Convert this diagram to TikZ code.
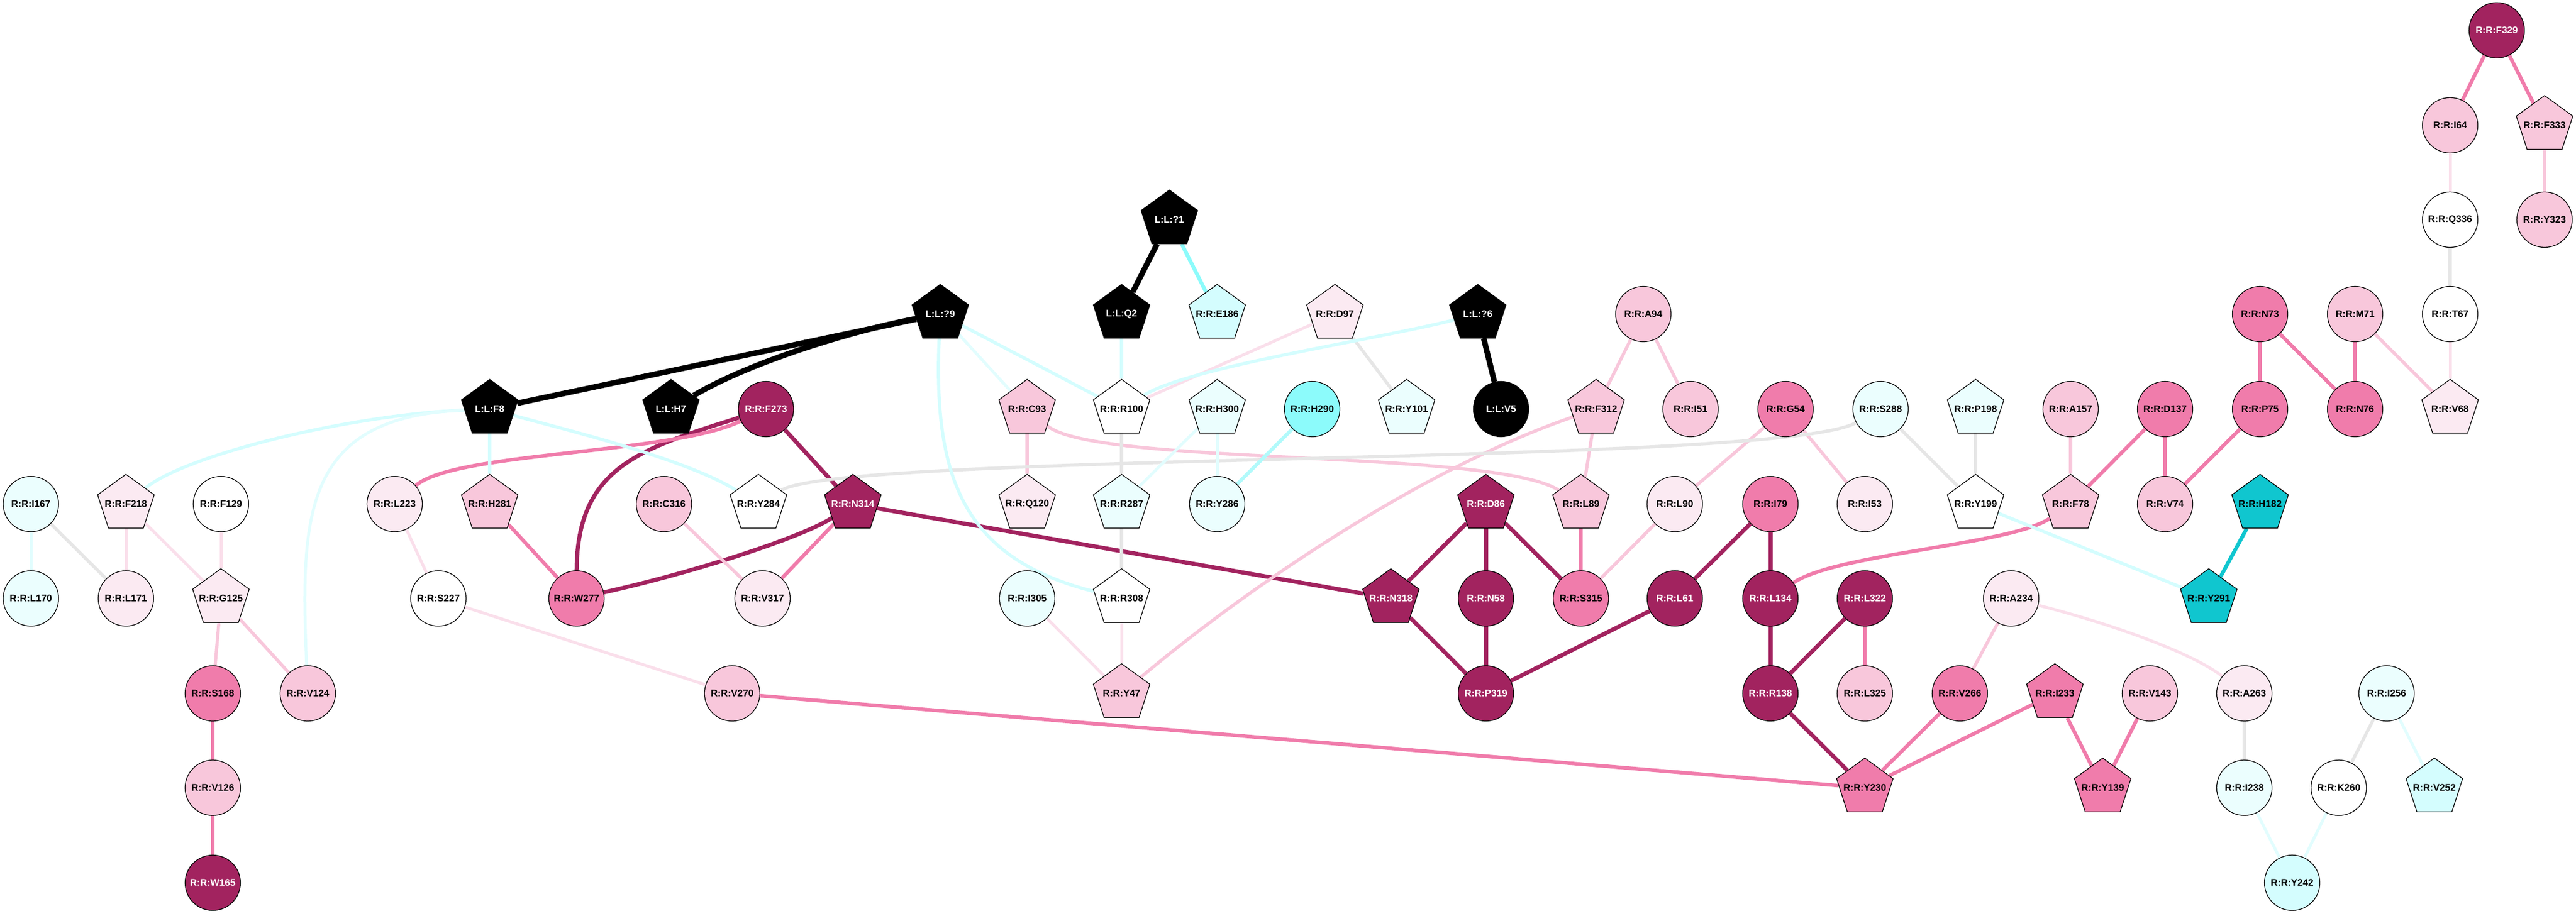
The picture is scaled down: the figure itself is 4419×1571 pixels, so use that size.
\documentclass[tikz,border=0pt]{standalone}
\usepackage{fontspec}
\newfontfamily\labfont{Liberation Sans}
\usetikzlibrary{shapes.geometric,backgrounds}
\definecolor{dmc}{HTML}{A2235F}
\definecolor{mpc}{HTML}{F07CAB}
\definecolor{lpc}{HTML}{F8C7DB}
\definecolor{vpc}{HTML}{FBEAF2}
\definecolor{vpe}{HTML}{FADFEB}
\definecolor{vcc}{HTML}{EBFEFE}
\definecolor{vce}{HTML}{E2FDFE}
\definecolor{lcc}{HTML}{D4FDFE}
\definecolor{mcc}{HTML}{B2FAFB}
\definecolor{cyc}{HTML}{8CFBFB}
\definecolor{tlc}{HTML}{10C6CF}
\definecolor{grc}{HTML}{E6E6E6}
\newcommand\lbl[1]{\makebox[0pt]{#1}}
\begin{document}
\begin{tikzpicture}[x=0.1mm,y=-0.1mm,
        cir/.style={circle,minimum size=9.5mm},
        pen/.style={regular polygon,regular polygon sides=5,minimum size=10.2mm},
        kk/.style={fill=black,text=white},
        dm/.style={fill=dmc,text=white},
        mp/.style={fill=mpc},
        lp/.style={fill=lpc},
        vp/.style={fill=vpc},
        wh/.style={fill=white},
        vc/.style={fill=vcc},
        lc/.style={fill=lcc},
        cy/.style={fill=cyc},
        tl/.style={fill=tlc},
        ek/.style={line width=0.95mm,black},
        edm/.style={line width=0.7mm,dmc},
        emp/.style={line width=0.62mm,mpc},
        elp/.style={line width=0.55mm,lpc},
        evp/.style={line width=0.5mm,vpe},
        egr/.style={line width=0.55mm,grc},
        elc/.style={line width=0.55mm,lcc},
        evc/.style={line width=0.5mm,vce},
        emc/.style={line width=0.6mm,mcc},
        ecy/.style={line width=0.65mm,cyc},
        etl/.style={line width=0.65mm,tlc}]
    \useasboundingbox (0,0) rectangle (4419,1571);
    \begin{scope}[every node/.style={draw,line width=0.35pt,inner sep=0pt,
                    font=\labfont\bfseries\fontsize{4.7}{5}\selectfont}]
        \node[cir,dm] (F329) at (4283,52) {\lbl{R:R:F329}};
        \node[cir,lp] (I64) at (4203,215) {\lbl{R:R:I64}};
        \node[pen,lp] (F333) at (4365,215) {\lbl{R:R:F333}};
        \node[pen,kk] (l1) at (2006,377) {\lbl{L:L:?1}};
        \node[cir,wh] (Q336) at (4203,377) {\lbl{R:R:Q336}};
        \node[cir,lp] (Y323) at (4365,377) {\lbl{R:R:Y323}};

        \node[pen,kk] (l9) at (1613,539) {\lbl{L:L:?9}};
        \node[pen,kk] (lQ2) at (1924,539) {\lbl{L:L:Q2}};
        \node[pen,lc] (E186) at (2088,539) {\lbl{R:R:E186}};
        \node[pen,vp] (D97) at (2290,539) {\lbl{R:R:D97}};
        \node[pen,kk] (l6) at (2535,539) {\lbl{L:L:?6}};
        \node[cir,lp] (A94) at (2819,539) {\lbl{R:R:A94}};
        \node[cir,mp] (N73) at (3877,539) {\lbl{R:R:N73}};
        \node[cir,lp] (M71) at (4040,539) {\lbl{R:R:M71}};
        \node[cir,wh] (T67) at (4203,539) {\lbl{R:R:T67}};

        \node[pen,kk] (lF8) at (840,702) {\lbl{L:L:F8}};
        \node[pen,kk] (lH7) at (1151,702) {\lbl{L:L:H7}};
        \node[cir,dm] (F273) at (1314,702) {\lbl{R:R:F273}};
        \node[pen,lp] (C93) at (1762,702) {\lbl{R:R:C93}};
        \node[pen,wh] (R100) at (1924,702) {\lbl{R:R:R100}};
        \node[pen,vc] (H300) at (2088,702) {\lbl{R:R:H300}};
        \node[cir,cy] (H290) at (2251,702) {\lbl{R:R:H290}};
        \node[pen,vc] (Y101) at (2413,702) {\lbl{R:R:Y101}};
        \node[cir,kk] (lV5) at (2575,702) {\lbl{L:L:V5}};
        \node[pen,lp] (F312) at (2738,702) {\lbl{R:R:F312}};
        \node[cir,lp] (I51) at (2900,702) {\lbl{R:R:I51}};
        \node[cir,mp] (G54) at (3063,702) {\lbl{R:R:G54}};
        \node[cir,vc] (S288) at (3226,702) {\lbl{R:R:S288}};
        \node[pen,vc] (P198) at (3389,702) {\lbl{R:R:P198}};
        \node[cir,lp] (A157) at (3552,702) {\lbl{R:R:A157}};
        \node[cir,mp] (D137) at (3714,702) {\lbl{R:R:D137}};
        \node[cir,mp] (P75) at (3877,702) {\lbl{R:R:P75}};
        \node[cir,mp] (N76) at (4040,702) {\lbl{R:R:N76}};
        \node[pen,vp] (V68) at (4203,702) {\lbl{R:R:V68}};

        \node[cir,vc] (I167) at (53,865) {\lbl{R:R:I167}};
        \node[pen,vp] (F218) at (216,865) {\lbl{R:R:F218}};
        \node[cir,wh] (F129) at (379,865) {\lbl{R:R:F129}};
        \node[cir,vp] (L223) at (677,865) {\lbl{R:R:L223}};
        \node[pen,lp] (H281) at (840,865) {\lbl{R:R:H281}};
        \node[cir,lp] (C316) at (1139,865) {\lbl{R:R:C316}};
        \node[pen,wh] (Y284) at (1301,865) {\lbl{R:R:Y284}};
        \node[pen,dm] (N314) at (1463,865) {\lbl{R:R:N314}};
        \node[pen,vp] (Q120) at (1762,865) {\lbl{R:R:Q120}};
        \node[pen,vc] (R287) at (1924,865) {\lbl{R:R:R287}};
        \node[cir,vc] (Y286) at (2088,865) {\lbl{R:R:Y286}};
        \node[pen,dm] (D86) at (2549,865) {\lbl{R:R:D86}};
        \node[pen,lp] (L89) at (2712,865) {\lbl{R:R:L89}};
        \node[cir,vp] (L90) at (2873,865) {\lbl{R:R:L90}};
        \node[cir,mp] (I79) at (3037,865) {\lbl{R:R:I79}};
        \node[cir,vp] (I53) at (3199,865) {\lbl{R:R:I53}};
        \node[pen,wh] (Y199) at (3389,865) {\lbl{R:R:Y199}};
        \node[pen,lp] (F78) at (3552,865) {\lbl{R:R:F78}};
        \node[cir,lp] (V74) at (3714,865) {\lbl{R:R:V74}};
        \node[pen,tl] (H182) at (3877,865) {\lbl{R:R:H182}};

        \node[cir,vc] (L170) at (53,1027) {\lbl{R:R:L170}};
        \node[cir,vp] (L171) at (216,1027) {\lbl{R:R:L171}};
        \node[pen,vp] (G125) at (379,1027) {\lbl{R:R:G125}};
        \node[cir,wh] (S227) at (752,1027) {\lbl{R:R:S227}};
        \node[cir,mp] (W277) at (989,1027) {\lbl{R:R:W277}};
        \node[cir,vp] (V317) at (1308,1027) {\lbl{R:R:V317}};
        \node[cir,vc] (I305) at (1762,1027) {\lbl{R:R:I305}};
        \node[pen,wh] (R308) at (1924,1027) {\lbl{R:R:R308}};
        \node[pen,dm] (N318) at (2386,1027) {\lbl{R:R:N318}};
        \node[cir,dm] (N58) at (2549,1027) {\lbl{R:R:N58}};
        \node[cir,mp] (S315) at (2712,1027) {\lbl{R:R:S315}};
        \node[cir,dm] (L61) at (2873,1027) {\lbl{R:R:L61}};
        \node[cir,dm] (L134) at (3037,1027) {\lbl{R:R:L134}};
        \node[cir,dm] (L322) at (3199,1027) {\lbl{R:R:L322}};
        \node[cir,vp] (A234) at (3450,1027) {\lbl{R:R:A234}};
        \node[pen,tl] (Y291) at (3789,1027) {\lbl{R:R:Y291}};

        \node[cir,mp] (S168) at (365,1190) {\lbl{R:R:S168}};
        \node[cir,lp] (V124) at (528,1190) {\lbl{R:R:V124}};
        \node[cir,lp] (V270) at (1256,1190) {\lbl{R:R:V270}};
        \node[pen,lp] (Y47) at (1924,1190) {\lbl{R:R:Y47}};
        \node[cir,dm] (P319) at (2549,1190) {\lbl{R:R:P319}};
        \node[cir,dm] (R138) at (3037,1190) {\lbl{R:R:R138}};
        \node[cir,lp] (L325) at (3199,1190) {\lbl{R:R:L325}};
        \node[cir,mp] (V266) at (3362,1190) {\lbl{R:R:V266}};
        \node[pen,mp] (I233) at (3525,1190) {\lbl{R:R:I233}};
        \node[cir,lp] (V143) at (3688,1190) {\lbl{R:R:V143}};
        \node[cir,vp] (A263) at (3850,1190) {\lbl{R:R:A263}};
        \node[cir,vc] (I256) at (4094,1190) {\lbl{R:R:I256}};

        \node[cir,lp] (V126) at (365,1352) {\lbl{R:R:V126}};
        \node[pen,mp] (Y230) at (3199,1352) {\lbl{R:R:Y230}};
        \node[pen,mp] (Y139) at (3607,1352) {\lbl{R:R:Y139}};
        \node[cir,vc] (I238) at (3850,1352) {\lbl{R:R:I238}};
        \node[cir,wh] (K260) at (4012,1352) {\lbl{R:R:K260}};
        \node[pen,lc] (V252) at (4176,1352) {\lbl{R:R:V252}};

        \node[cir,dm] (W165) at (365,1515) {\lbl{R:R:W165}};
        \node[cir,lc] (Y242) at (3932,1515) {\lbl{R:R:Y242}};
    \end{scope}

    \begin{scope}[on background layer]
        \path (lF8) edge[ek] (l9);
        \draw[ek] (lH7) .. controls (1280,625) and (1450,570) .. (l9);
        \path (l1) edge[ek] (lQ2);
        \path (l6) edge[ek] (lV5);

        \path (F273) edge[edm] (N314);
        \draw[edm] (W277) .. controls (990,800) and (1100,770) .. (F273);
        \draw[edm] (W277) .. controls (1200,980) and (1380,920) .. (N314);
        \path (N314) edge[edm] (N318);
        \path (D86) edge[edm] (N318);
        \path (D86) edge[edm] (N58);
        \path (D86) edge[edm] (S315);
        \path (N318) edge[edm] (P319);
        \path (N58) edge[edm] (P319);
        \path (P319) edge[edm] (L61);
        \path (L61) edge[edm] (I79);
        \path (I79) edge[edm] (L134);
        \path (L134) edge[edm] (R138);
        \path (L322) edge[edm] (R138);
        \path (R138) edge[edm] (Y230);

        \path (S168) edge[emp] (V126);
        \path (V126) edge[emp] (W165);
        \draw[emp] (L223) .. controls (780,775) and (1150,780) .. (F273);
        \path (H281) edge[emp] (W277);
        \path (N314) edge[emp] (V317);
        \path (V270) edge[emp] (Y230);
        \path (L89) edge[emp] (S315);
        \path (L322) edge[emp] (L325);
        \draw[emp] (L134) .. controls (3150,950) and (3450,935) .. (F78);
        \path (D137) edge[emp] (F78);
        \path (D137) edge[emp] (V74);
        \path (P75) edge[emp] (V74);
        \path (N73) edge[emp] (P75);
        \path (N73) edge[emp] (N76);
        \path (M71) edge[emp] (N76);
        \path (F329) edge[emp] (I64);
        \path (F329) edge[emp] (F333);
        \path (V266) edge[emp] (Y230);
        \path (I233) edge[emp] (Y230);
        \path (I233) edge[emp] (Y139);
        \path (V143) edge[emp] (Y139);

        \path (G125) edge[elp] (S168);
        \path (G125) edge[elp] (V124);
        \path (C316) edge[elp] (V317);
        \path (C93) edge[elp] (Q120);
        \draw[elp] (C93) .. controls (1880,800) and (2560,770) .. (L89);
        \draw[elp] (Y47) .. controls (2150,1000) and (2450,800) .. (F312);
        \path (A94) edge[elp] (F312);
        \path (A94) edge[elp] (I51);
        \path (F312) edge[elp] (L89);
        \path (G54) edge[elp] (L90);
        \path (G54) edge[elp] (I53);
        \path (L90) edge[elp] (S315);
        \path (A157) edge[elp] (F78);
        \path (M71) edge[elp] (V68);
        \path (F333) edge[elp] (Y323);
        \path (A234) edge[elp] (V266);

        \path (F218) edge[evp] (L171);
        \path (F218) edge[evp] (G125);
        \path (F129) edge[evp] (G125);
        \path (L223) edge[evp] (S227);
        \path (S227) edge[evp] (V270);
        \path (R308) edge[evp] (Y47);
        \path (I305) edge[evp] (Y47);
        \path (D97) edge[evp] (R100);
        \path (T67) edge[evp] (V68);
        \path (I64) edge[evp] (Q336);
        \draw[evp] (A234) .. controls (3620,1070) and (3760,1120) .. (A263);

        \path (I167) edge[egr] (L171);
        \draw[egr] (Y284) .. controls (1450,775) and (3050,800) .. (S288);
        \path (R100) edge[egr] (R287);
        \path (R287) edge[egr] (R308);
        \path (D97) edge[egr] (Y101);
        \path (S288) edge[egr] (Y199);
        \path (P198) edge[egr] (Y199);
        \path (Q336) edge[egr] (T67);
        \path (A263) edge[egr] (I238);
        \path (I256) edge[egr] (K260);

        \draw[elc] (lF8) .. controls (600,712) and (320,780) .. (F218);
        \path (lF8) edge[elc] (H281);
        \draw[elc] (lF8) .. controls (1000,745) and (1180,790) .. (Y284);
        \path (l9) edge[elc] (R100);
        \draw[elc] (l9) .. controls (1600,830) and (1660,960) .. (R308);
        \path (lQ2) edge[elc] (R100);
        \draw[elc] (R100) .. controls (2040,630) and (2350,585) .. (l6);
        \path (Y199) edge[elc] (Y291);

        \path (I167) edge[evc] (L170);
        \draw[evc] (lF8) .. controls (520,715) and (515,880) .. (V124);
        \path (l9) edge[evc] (C93);
        \path (R287) edge[evc] (H300);
        \path (H300) edge[evc] (Y286);
        \path (I238) edge[evc] (Y242);
        \path (K260) edge[evc] (Y242);
        \path (I256) edge[evc] (V252);

        \path (l1) edge[ecy] (E186);
        \path (Y286) edge[emc] (H290);
        \path (H182) edge[etl] (Y291);
    \end{scope}
\end{tikzpicture}
\end{document}
